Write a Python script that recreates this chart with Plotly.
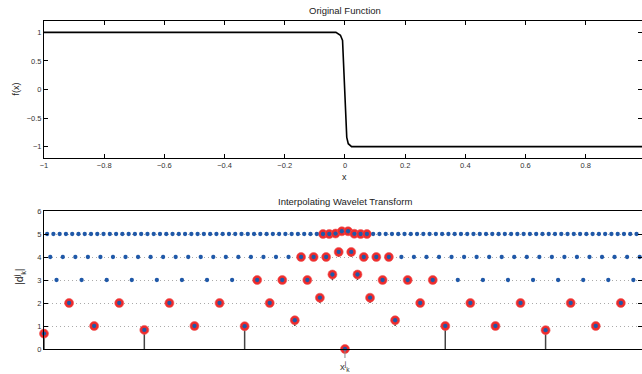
import numpy as np
import plotly.graph_objects as go

# ---------------- data ----------------
# original function
func_x = [-1.0, -0.03, -0.015, -0.008, 0.006, 0.011, 0.022, 1.0]
func_y = [1.0, 1.0, 0.95, 0.86, -0.84, -0.95, -1.0, -1.0]

# level 0 coefficients (positions k/3)
lvl0_x = [-1.0, -2/3, -1/3, 0.0, 1/3, 2/3, 1.0]
lvl0_y = [0.67, 0.83, 0.99, 0.0, 1.0, 0.82, 0.67]
lvl0_sig = [1, 1, 1, 1, 1, 1, 1]

# levels 1..5: plotted values (level + |d|)
lvl1_y = [1.0, 1.0, 1.25, 1.25, 1.0, 1.0]
lvl2_y = [2.0] * 5 + [2.23, 2.23] + [2.0] * 5
lvl3_y = [3.0] * 11 + [3.24, 3.24] + [3.0] * 11
lvl4_y = [4.0] * 23 + [4.22, 4.22] + [4.0] * 23
lvl5_y = [5.0] * 46 + [5.02, 5.12, 5.12, 5.01] + [5.0] * 46

lvl1_sig = [1] * 6
lvl2_sig = [1] * 12
lvl3_sig = [0] * 8 + [1] * 8 + [0] * 8
lvl4_sig = [0] * 20 + [1] * 8 + [0] * 20
lvl5_sig = [0] * 44 + [1] * 8 + [0] * 44

top_xticks = [-1, -0.8, -0.6, -0.4, -0.2, 0, 0.2, 0.4, 0.6, 0.8]
top_yticks = [-1, -0.5, 0, 0.5, 1]
bot_yticks = [0, 1, 2, 3, 4, 5, 6]

# ---------------- assemble ----------------
levels = []
levels.append((0, lvl0_x, lvl0_y, lvl0_sig))
for j, (vals, sig) in enumerate([(lvl1_y, lvl1_sig), (lvl2_y, lvl2_sig), (lvl3_y, lvl3_sig),
                                 (lvl4_y, lvl4_sig), (lvl5_y, lvl5_sig)], start=1):
    n = 3 * 2 ** (j - 1)
    xs = [(2 * k + 1) / (3 * 2 ** j) for k in range(-n, n)]
    levels.append((j, xs, vals, sig))

stem_x, stem_y = [], []
all_x, all_y, red_x, red_y = [], [], [], []
for j, xs, ys, sig in levels:
    for x, y, s in zip(xs, ys, sig):
        stem_x += [x, x, None]
        stem_y += [j, y, None]
        all_x.append(x)
        all_y.append(y)
        if s:
            red_x.append(x)
            red_y.append(y)

FONT = "Liberation Sans, Arial, Helvetica, sans-serif"
fig = go.Figure()

fig.add_trace(go.Scatter(x=func_x, y=func_y, mode="lines",
                         line=dict(color="black", width=1.6),
                         xaxis="x", yaxis="y", showlegend=False, hoverinfo="skip"))

fig.add_trace(go.Scatter(x=stem_x, y=stem_y, mode="lines",
                         line=dict(color="#444444", width=1.5),
                         xaxis="x2", yaxis="y2", showlegend=False, cliponaxis=False,
                         hoverinfo="skip"))
fig.add_trace(go.Scatter(x=red_x, y=red_y, mode="markers",
                         marker=dict(color="#ee2b2b", size=9,
                                     line=dict(color="rgba(240,90,90,0.6)", width=1)),
                         xaxis="x2", yaxis="y2", showlegend=False, cliponaxis=False))
fig.add_trace(go.Scatter(x=all_x, y=all_y, mode="markers",
                         marker=dict(color="#1f58a8", size=4.3, line=dict(width=0)),
                         xaxis="x2", yaxis="y2", showlegend=False, cliponaxis=False))

axis_common = dict(showline=True, linecolor="black", linewidth=1, mirror="ticks",
                   ticks="inside", ticklen=4, tickcolor="black", zeroline=False,
                   tickfont=dict(family=FONT, size=7.5, color="#333333"))

xr = [-1, 0.987]
fig.update_layout(
    width=642, height=374,
    margin=dict(l=44, r=0, t=21, b=25),
    paper_bgcolor="white", plot_bgcolor="white",
    font=dict(family=FONT, color="#222222"),
    xaxis=dict(domain=[0, 1], range=xr, anchor="y", tickvals=top_xticks,
               showgrid=False, **axis_common),
    yaxis=dict(domain=[0.5823, 1], range=[-1.2, 1.2], anchor="x", tickvals=top_yticks,
               showgrid=False, **axis_common),
    xaxis2=dict(domain=[0, 1], range=xr, anchor="y2", showticklabels=False,
                showline=True, linecolor="black", linewidth=1, mirror=True,
                ticks="", zeroline=False, showgrid=False),
    yaxis2=dict(domain=[0, 0.4207], range=[0, 6], anchor="x2", tickvals=bot_yticks,
                showgrid=True, gridcolor="#aaaaaa", gridwidth=1, griddash="1px,3px",
                **axis_common),
)

ann = [
    dict(text="Original Function", x=0, xref="x", y=1.0335, yref="paper",
         xanchor="center", yanchor="middle",
         showarrow=False, font=dict(size=9.5, family=FONT, color="#222")),
    dict(text="x", x=0, xref="x", y=0.524, yref="paper",
         xanchor="center", yanchor="middle",
         showarrow=False, font=dict(size=9, family=FONT, color="#222")),
    dict(text="f(x)", x=-0.046, xref="paper", y=0.7927, yref="paper", textangle=-90,
         xanchor="center", yanchor="middle",
         showarrow=False, font=dict(size=9, family=FONT, color="#222")),
    dict(text="Interpolating Wavelet Transform", x=0, xref="x2", y=0.451, yref="paper",
         xanchor="center", yanchor="middle",
         showarrow=False, font=dict(size=9.5, family=FONT, color="#222")),
    dict(text="|d<sup>j</sup><sub>k</sub>|", x=-0.04, xref="paper", y=0.2195, yref="paper",
         xanchor="center", yanchor="middle",
         textangle=-90, showarrow=False, font=dict(size=10.5, family=FONT, color="#222")),
    dict(text="x<sup>j</sup><sub>k</sub>", x=0, xref="x2", y=0, yref="y2",
         showarrow=True, arrowhead=0, arrowwidth=1, arrowcolor="#888888",
         ax=0, ay=17, standoff=1, font=dict(size=9.5, family=FONT, color="#333")),
]
fig.update_layout(annotations=ann)

fig.write_html("out.html")
